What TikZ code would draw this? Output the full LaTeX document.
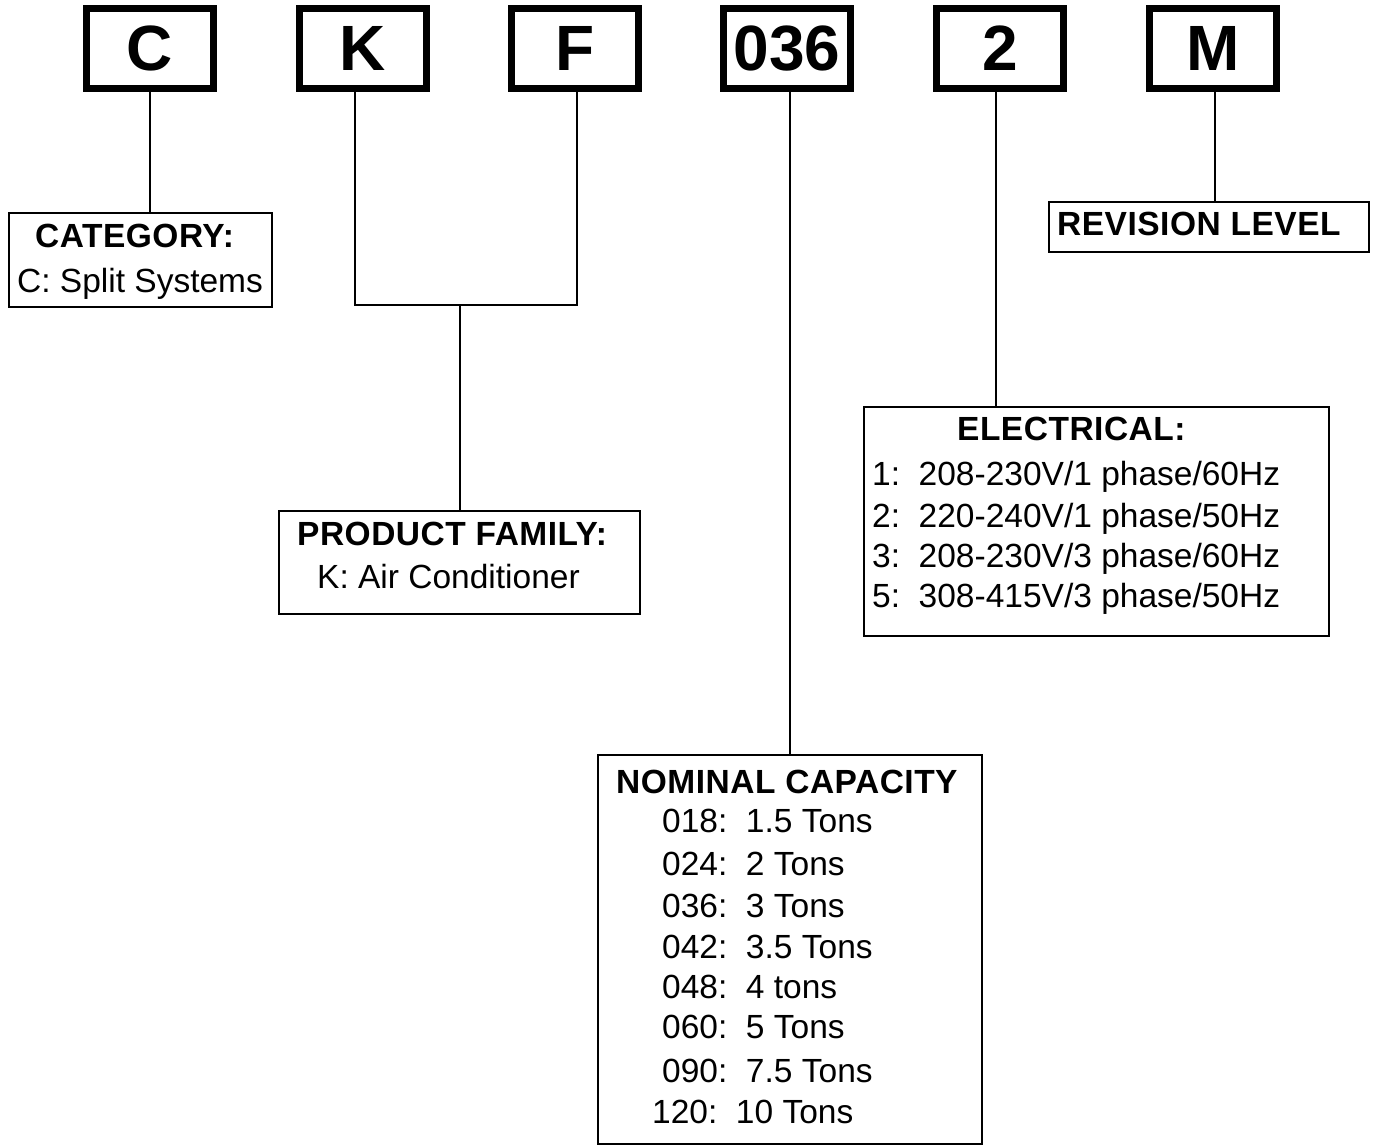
\documentclass[tikz,border=0pt]{standalone}
\usepackage{fontspec}
\setmainfont{Liberation Sans}
\begin{document}
\begin{tikzpicture}[x=1pt,y=-1pt,
  codebox/.style={draw,line width=7pt,minimum width=127pt,minimum height=80pt,inner sep=0pt,
    font=\fontsize{64}{64}\selectfont\bfseries},
  infobox/.style={draw,line width=2.5pt,inner sep=0pt},
  txt/.style={anchor=base west,inner sep=0pt,font=\fontsize{33.5}{33.5}\selectfont},
  head/.style={txt,font=\fontsize{33.5}{33.5}\selectfont\bfseries\addfontfeature{LetterSpace=1.5}},
  conn/.style={line width=2.5pt}]
\useasboundingbox (0,0) rectangle (1380,1146);
% code boxes
\node[codebox] (cC) at (150,48.5) {C};
\node[codebox] (cK) at (362.5,48.5) {K};
\node[codebox] (cF) at (575,48.5) {F};
\node[codebox] (c036) at (787,48.5) {036};
\node[codebox] (c2) at (1000,48.5) {2};
\node[codebox] (cM) at (1213,48.5) {M};
% info boxes
\node[infobox,minimum width=263pt,minimum height=94pt] (cat) at (140.5,260) {};
\node[infobox,minimum width=361pt,minimum height=103pt] (pf) at (459.5,562.5) {};
\node[infobox,minimum width=465pt,minimum height=229pt] (elec) at (1096.5,521.5) {};
\node[infobox,minimum width=320pt,minimum height=50pt] (rev) at (1209,227) {};
\node[infobox,minimum width=384pt,minimum height=389pt] (cap) at (790,949.5) {};
% texts
\node[head] (catH) at (35,247) {CATEGORY:};
\node[txt] (catT) at (17,292) {C: Split Systems};
\node[head] (pfH) at (297,545) {PRODUCT FAMILY:};
\node[txt] (pfT) at (317,588) {K: Air Conditioner};
\node[head] (elH) at (957,440) {ELECTRICAL:};
\node[txt] (el1) at (872,485) {1:\ \ 208-230V/1 phase/60Hz};
\node[txt] (el2) at (872,527) {2:\ \ 220-240V/1 phase/50Hz};
\node[txt] (el3) at (872,567) {3:\ \ 208-230V/3 phase/60Hz};
\node[txt] (el5) at (872,607) {5:\ \ 308-415V/3 phase/50Hz};
\node[head] (revH) at (1057,235) {REVISION LEVEL};
\node[head] (capH) at (616,793) {NOMINAL CAPACITY};
\node[txt] (n1) at (662,832) {018:\ \ 1.5 Tons};
\node[txt] (n2) at (662,875) {024:\ \ 2 Tons};
\node[txt] (n3) at (662,917) {036:\ \ 3 Tons};
\node[txt] (n4) at (662,958) {042:\ \ 3.5 Tons};
\node[txt] (n5) at (662,998) {048:\ \ 4 tons};
\node[txt] (n6) at (662,1038) {060:\ \ 5 Tons};
\node[txt] (n7) at (662,1082) {090:\ \ 7.5 Tons};
\node[txt] (n8) at (652,1123) {120:\ \ 10 Tons};
% connectors
\draw[conn] (cC.south) -- (cC.south |- cat.north);
\coordinate (kf) at (460,305);
\coordinate (kS) at ([xshift=-7.5pt]cK.south);
\coordinate (fS) at ([xshift=2pt]cF.south);
\draw[conn] (kS) |- (kf) -| (fS);
\draw[conn] (kf) -- (kf |- pf.north);
\draw[conn] (cap.north) -- (cap.north |- c036.south);
\coordinate (e2) at ([xshift=-4pt]c2.south);
\draw[conn] (e2) -- (e2 |- elec.north);
\coordinate (mS) at ([xshift=2pt]cM.south);
\draw[conn] (mS) -- (mS |- rev.north);
\end{tikzpicture}
\end{document}
